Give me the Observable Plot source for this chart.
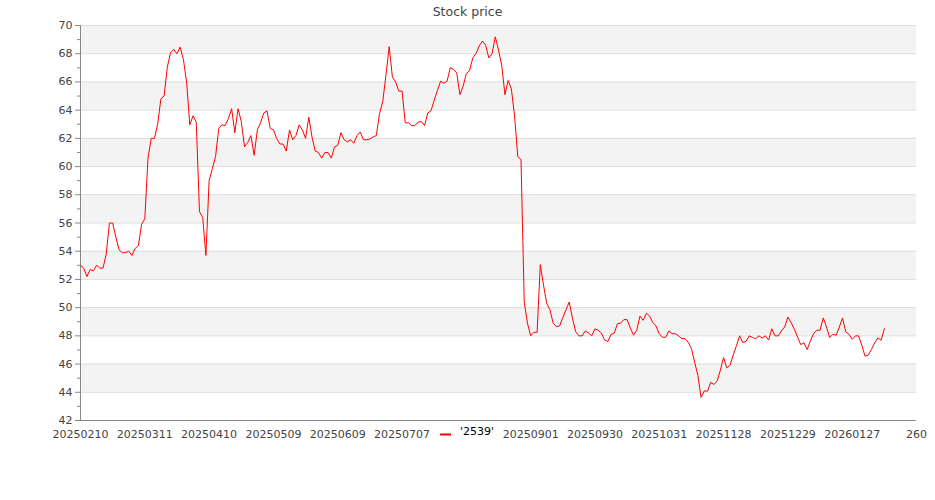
<!DOCTYPE html>
<html>
<head>
<meta charset="utf-8">
<script src="https://cdn.jsdelivr.net/npm/d3@7"></script>
<script src="https://cdn.jsdelivr.net/npm/@observablehq/plot@0.6"></script>
<style>
  html, body { margin: 0; padding: 0; background: #fff; }
  #wrap { position: relative; width: 935px; height: 500px; font-family: "DejaVu Sans", sans-serif; }
  #title { position: absolute; left: 0; top: 6px; width: 935px; text-align: center; font-size: 12.5px; line-height: 1; color: #444; }
  #legend { position: absolute; left: 0; top: 0; }
</style>
</head>
<body>
<div id="wrap">
  <div id="chart"></div>
  <div id="title">Stock price</div>
</div>
<script>
const seriesName = "'2539'";
const prices = [
  53.0,52.8,52.2,52.7,52.6,53.0,52.8,52.8,53.8,56.0,
  56.0,55.0,54.1,53.9,53.9,54.0,53.7,54.2,54.4,55.9,
  56.3,60.6,62.0,62.0,63.0,64.8,65.0,67.05,68.07,68.3,
  68.0,68.47,67.6,66.0,62.96,63.6,63.15,56.8,56.4,53.7,
  59.0,59.85,60.7,62.7,62.96,62.9,63.4,64.1,62.4,64.1,
  63.2,61.4,61.7,62.2,60.8,62.6,63.1,63.8,63.95,62.7,
  62.6,62.0,61.6,61.6,61.1,62.6,61.9,62.2,62.96,62.6,
  62.0,63.5,62.1,61.1,61.0,60.6,61.0,61.0,60.6,61.4,
  61.5,62.4,61.9,61.75,61.9,61.65,62.2,62.45,61.9,61.9,
  61.95,62.1,62.2,63.75,64.6,66.5,68.5,66.35,66.0,65.35,
  65.35,63.1,63.1,62.9,62.9,63.15,63.2,62.9,63.8,63.95,
  64.7,65.4,66.05,65.9,66.05,67.0,66.9,66.65,65.1,65.7,
  66.6,66.8,67.7,68.0,68.55,68.9,68.6,67.7,68.0,69.2,
  68.25,67.2,65.1,66.1,65.5,63.6,60.7,60.5,50.4,48.9,
  48.0,48.25,48.25,53.05,51.6,50.3,49.85,48.9,48.65,48.7,
  49.3,49.85,50.4,49.25,48.3,48.0,48.0,48.35,48.2,48.0,
  48.5,48.4,48.2,47.7,47.6,48.1,48.2,48.87,48.9,49.15,
  49.15,48.55,48.05,48.4,49.4,49.1,49.6,49.4,48.95,48.7,
  48.15,47.9,47.9,48.35,48.15,48.15,48.0,47.8,47.8,47.55,
  47.1,46.15,45.2,43.63,44.1,44.08,44.7,44.55,44.8,45.57,
  46.46,45.73,45.92,46.65,47.3,48.0,47.52,47.62,48.0,47.88,
  47.8,48.0,47.85,48.0,47.7,48.5,48.0,48.0,48.35,48.63,
  49.34,48.94,48.47,47.92,47.38,47.5,47.03,47.64,48.16,48.4,
  48.4,49.27,48.63,47.88,48.11,48.04,48.63,49.27,48.28,48.11,
  47.76,48.0,48.0,47.33,46.56,46.63,47.05,47.5,47.85,47.69,
  48.51
];
const xTickIndex = [0,20,40,60,80,100,140,160,180,200,220,240,260];
const xTickLabels = ["20250210","20250311","20250410","20250509","20250609","20250707","20250901","20250930","20251031","20251128","20251229","20260127","260"];
const yTicks = [42,44,46,48,50,52,54,56,58,60,62,64,66,68,70];
const yMinorTicks = [43,45,47,49,51,53,55,57,59,61,63,65,67,69];
const bandLow  = [44,48,52,56,60,64,68];
const bandHigh = [46,50,54,58,62,66,70];

const points = prices.map((v, i) => ({i, v}));
const bands = bandLow.map((lo, k) => ({lo, hi: bandHigh[k]}));
const labelOf = new Map(xTickIndex.map((t, k) => [t, xTickLabels[k]]));

const axisColor = "#888";
const textColor = "#444";

const chart = Plot.plot({
  width: 935,
  height: 500,
  marginLeft: 80,
  marginRight: 19,
  marginTop: 25,
  marginBottom: 80,
  style: { fontFamily: "DejaVu Sans, sans-serif", fontSize: "11px", color: textColor, background: "#fff" },
  x: { domain: [0, 260] },
  y: { domain: [42, 70] },
  marks: [
    Plot.rect(bands, { y1: "lo", y2: "hi", fill: "#f3f3f3" }),
    Plot.ruleY(yTicks, { stroke: "#dddddd", strokeWidth: 1 }),
    Plot.axisY({ ticks: yMinorTicks, tickSize: 3, text: null, stroke: axisColor, label: null }),
    Plot.axisY({ ticks: yTicks, tickSize: 5, tickPadding: 3, stroke: axisColor, fill: textColor, label: null }),
    Plot.axisX({ ticks: xTickIndex, tickFormat: t => labelOf.get(t), tickSize: 0, tickPadding: 10, fill: textColor, label: null }),
    Plot.ruleX([0], { stroke: axisColor }),
    Plot.ruleY([42], { stroke: axisColor }),
    Plot.line(points, { x: "i", y: "v", stroke: "#ff0000", strokeWidth: 1 })
  ]
});
document.getElementById("chart").appendChild(chart);

// Legend (centered below the plot, overlapping the axis label row)
const NS = "http://www.w3.org/2000/svg";
const leg = document.createElementNS(NS, "svg");
leg.setAttribute("id", "legend");
leg.setAttribute("width", "935");
leg.setAttribute("height", "500");
leg.style.pointerEvents = "none";
const bg = document.createElementNS(NS, "rect");
bg.setAttribute("x", "434"); bg.setAttribute("y", "424");
bg.setAttribute("width", "68"); bg.setAttribute("height", "18");
bg.setAttribute("fill", "#fff");
leg.appendChild(bg);
const ln = document.createElementNS(NS, "line");
ln.setAttribute("x1", "440"); ln.setAttribute("x2", "451");
ln.setAttribute("y1", "434.5"); ln.setAttribute("y2", "434.5");
ln.setAttribute("stroke", "#ff0000"); ln.setAttribute("stroke-width", "2");
leg.appendChild(ln);
const tx = document.createElementNS(NS, "text");
tx.setAttribute("x", "460"); tx.setAttribute("y", "435");
tx.setAttribute("font-family", "DejaVu Sans, sans-serif");
tx.setAttribute("font-size", "11px");
tx.setAttribute("fill", "#000");
tx.textContent = seriesName;
leg.appendChild(tx);
document.getElementById("wrap").appendChild(leg);
</script>
</body>
</html>
